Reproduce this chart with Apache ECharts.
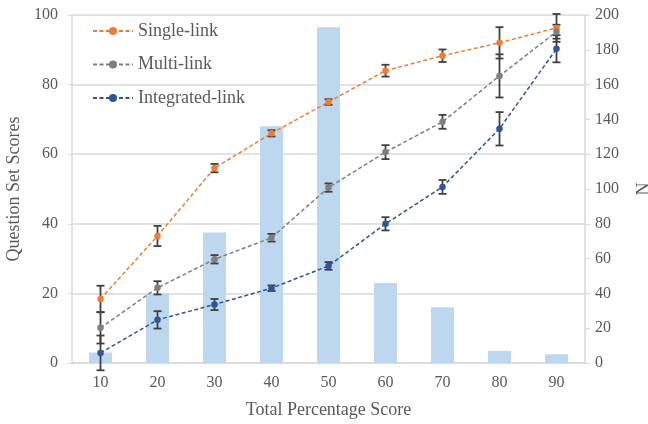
<!DOCTYPE html>
<html>
<head>
    <meta charset="utf-8">
    <title>Question Set Scores</title>
    <script src="https://cdn.jsdelivr.net/npm/echarts@6/dist/echarts.min.js"></script>
    <style>
        html, body { margin: 0; padding: 0; background: #fff; }
        #chart1 { width: 648px; height: 424px; }
    </style>
</head>
<body>
<div id="chart1"></div>
<script type="text/javascript">
    // data
    var categories = ['10', '20', '30', '40', '50', '60', '70', '80', '90'];
    var countN = [6, 40, 75, 136, 193, 46, 32, 7, 5];

    var singleLink = [18.4, 36.5, 56, 66, 75, 84, 88.3, 92, 96.3];
    var singleErr = [3.8, 2.9, 1.2, 0.9, 0.8, 1.7, 1.8, 4.5, 4];
    var multiLink = [10.1, 21.6, 29.8, 36, 50.4, 60.6, 69.3, 82.5, 95.2];
    var multiErr = [4.5, 1.9, 1.2, 1.1, 1.2, 2, 2, 6.2, 2];
    var integratedLink = [2.9, 12.4, 16.8, 21.5, 27.9, 40, 50.6, 67.3, 90.3];
    var integratedErr = [5, 2.5, 1.6, 0.8, 1.1, 1.9, 2, 4.8, 3.9];

    var textColor = '#595959';
    var lineColor = '#d9d9d9';
    var fontFam = '"Liberation Serif", "Times New Roman", serif';

    var myChart1 = echarts.init(document.getElementById('chart1'));

    // turn value + error into [x, low, high] rows for the custom series
    function errRows(vals, errs) {
        return vals.map(function (v, i) {
            return [i, v - errs[i], v + errs[i]];
        });
    }

    function renderErr(params, api) {
        var x = api.value(0);
        var lo = api.coord([x, api.value(1)]);
        var hi = api.coord([x, api.value(2)]);
        var cap = 4;
        var style = { stroke: '#404040', lineWidth: 1.8 };
        return {
            type: 'group',
            children: [
                { type: 'line', shape: { x1: hi[0], y1: hi[1], x2: lo[0], y2: lo[1] }, style: style },
                { type: 'line', shape: { x1: hi[0] - cap, y1: hi[1], x2: hi[0] + cap, y2: hi[1] }, style: style },
                { type: 'line', shape: { x1: lo[0] - cap, y1: lo[1], x2: lo[0] + cap, y2: lo[1] }, style: style }
            ]
        };
    }

    function lineSeries(name, data, color) {
        return {
            name: name,
            type: 'line',
            yAxisIndex: 0,
            data: data,
            symbol: 'circle',
            symbolSize: 6.5,
            z: 4,
            itemStyle: { color: color },
            lineStyle: { color: color, width: 1.5, type: [4, 2.5] }
        };
    }

    function errSeries(vals, errs) {
        return {
            type: 'custom',
            yAxisIndex: 0,
            data: errRows(vals, errs),
            renderItem: renderErr,
            clip: false,
            silent: true,
            z: 3,
            encode: { x: 0, y: [1, 2] }
        };
    }

    myChart1.setOption({
        animation: false,
        grid: { left: 72, right: 63, top: 15, bottom: 61, outerBoundsMode: 'none', containLabel: false },
        legend: {
            orient: 'vertical',
            left: 87,
            top: 17,
            itemWidth: 40,
            itemHeight: 10,
            itemGap: 15.5,
            data: ['Single-link', 'Multi-link', 'Integrated-link'],
            textStyle: { color: textColor, fontSize: 18, fontFamily: fontFam }
        },
        xAxis: {
            type: 'category',
            data: categories,
            name: 'Total Percentage Score',
            nameLocation: 'middle',
            nameGap: 38,
            nameTextStyle: { color: textColor, fontSize: 18, fontFamily: fontFam },
            axisLine: { lineStyle: { color: lineColor, width: 1.5 } },
            axisTick: { show: false },
            axisLabel: { color: textColor, fontSize: 16, fontFamily: fontFam, margin: 12 }
        },
        yAxis: [
            {
                type: 'value',
                min: 0,
                max: 100,
                interval: 20,
                name: 'Question Set Scores',
                nameLocation: 'middle',
                nameGap: 48,
                nameTextStyle: { color: textColor, fontSize: 18, fontFamily: fontFam },
                axisLine: { show: true, lineStyle: { color: lineColor, width: 1.5 } },
                axisTick: { show: true, length: 4, lineStyle: { color: lineColor } },
                splitLine: { lineStyle: { color: lineColor, width: 1.5 } },
                axisLabel: { color: textColor, fontSize: 16, fontFamily: fontFam, margin: 14 }
            },
            {
                type: 'value',
                min: 0,
                max: 200,
                interval: 20,
                name: 'N',
                nameLocation: 'middle',
                nameGap: 50,
                nameTextStyle: { color: textColor, fontSize: 18, fontFamily: fontFam },
                axisLine: { show: true, lineStyle: { color: lineColor, width: 1.5 } },
                axisTick: { show: true, length: 5, lineStyle: { color: lineColor } },
                splitLine: { show: false },
                axisLabel: { color: textColor, fontSize: 16, fontFamily: fontFam, margin: 10 }
            }
        ],
        series: [
            {
                name: 'N',
                type: 'bar',
                yAxisIndex: 1,
                data: countN,
                barWidth: 23,
                z: 1,
                itemStyle: { color: '#bdd7ee' }
            },
            errSeries(singleLink, singleErr),
            errSeries(multiLink, multiErr),
            errSeries(integratedLink, integratedErr),
            lineSeries('Single-link', singleLink, '#ed7d31'),
            lineSeries('Multi-link', multiLink, '#7f7f7f'),
            lineSeries('Integrated-link', integratedLink, '#2f5597')
        ]
    });
</script>
</body>
</html>
